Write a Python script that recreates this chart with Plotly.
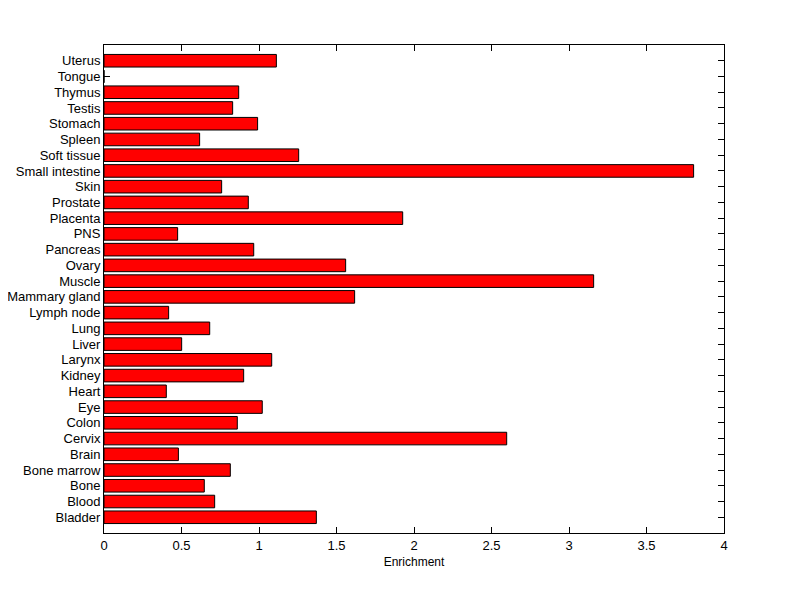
import plotly.graph_objects as go

tissues = ["Bladder", "Blood", "Bone", "Bone marrow", "Brain", "Cervix", "Colon", "Eye",
           "Heart", "Kidney", "Larynx", "Liver", "Lung", "Lymph node", "Mammary gland",
           "Muscle", "Ovary", "Pancreas", "PNS", "Placenta", "Prostate", "Skin",
           "Small intestine", "Soft tissue", "Spleen", "Stomach", "Testis", "Thymus",
           "Tongue", "Uterus"]
enrichment = [1.37, 0.714, 0.647, 0.815, 0.48, 2.598, 0.86, 1.021,
              0.402, 0.901, 1.082, 0.501, 0.682, 0.417, 1.617,
              3.159, 1.559, 0.966, 0.475, 1.927, 0.931, 0.759,
              3.804, 1.256, 0.617, 0.991, 0.83, 0.869,
              0.0, 1.112]
xticks = [0, 0.5, 1, 1.5, 2, 2.5, 3, 3.5, 4]
xtick_labels = ["0", "0.5", "1", "1.5", "2", "2.5", "3", "3.5", "4"]

positions = list(range(1, len(tissues) + 1))

fig = go.Figure(go.Bar(
    x=enrichment, y=positions, orientation="h", width=0.8,
    marker=dict(color="#FF0000", line=dict(color="black", width=1)),
    hoverinfo="skip",
))

font = dict(family="Liberation Sans, Arial, sans-serif", size=13, color="black")

fig.update_layout(
    width=800, height=599,
    margin=dict(l=96, r=84, t=37, b=74, autoexpand=False),
    paper_bgcolor="white", plot_bgcolor="white",
    font=font, showlegend=False,
    xaxis=dict(range=[0, 4], tickvals=xticks, ticktext=xtick_labels,
               ticks="inside", ticklen=6, tickwidth=1, tickcolor="black",
               showline=True, linecolor="black", linewidth=1, mirror="ticks",
               showgrid=False, zeroline=False, layer="below traces", automargin=False,
               title=dict(text="Enrichment", font=dict(size=12), standoff=6)),
    yaxis=dict(range=[0, len(tissues) + 1], tickvals=positions, ticktext=tissues,
               ticks="inside", ticklen=6, tickwidth=1, tickcolor="black",
               showline=True, linecolor="black", linewidth=1, mirror="ticks",
               showgrid=False, zeroline=False, layer="below traces", automargin=False),
)

fig.write_html("out.html")
